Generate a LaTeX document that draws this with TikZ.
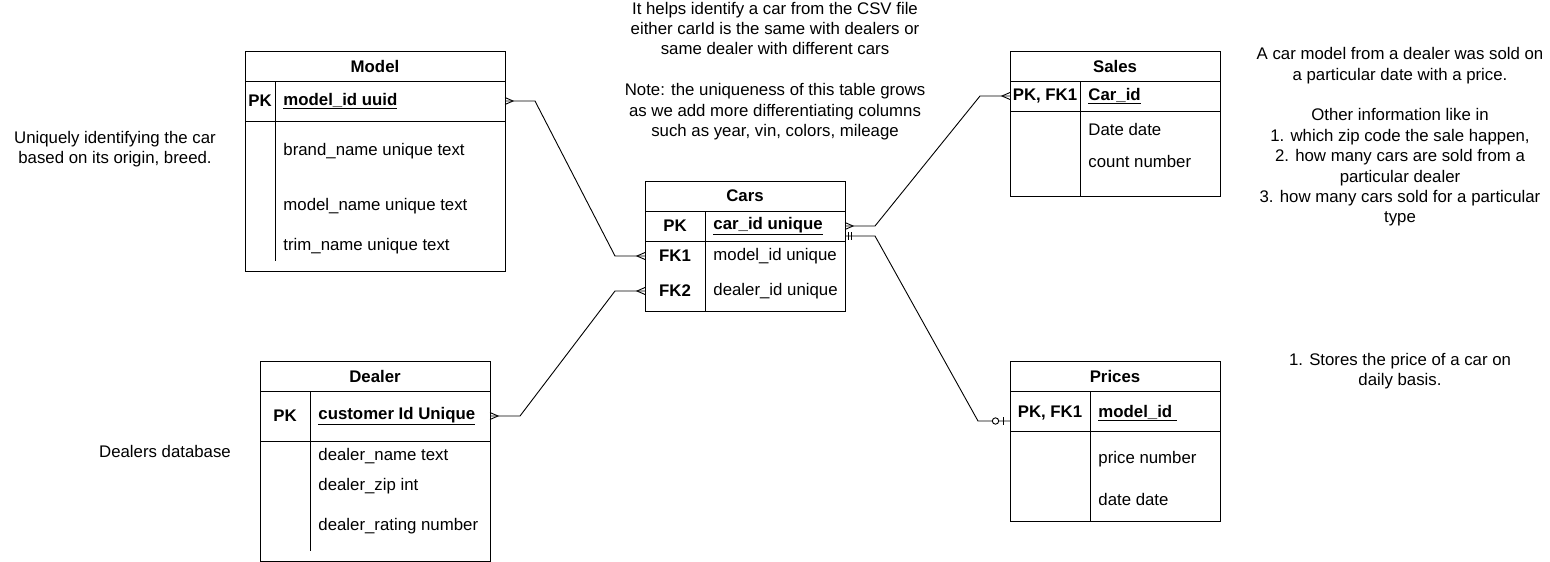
\documentclass[tikz,border=0pt]{standalone}
\usepackage{fontspec}
\setmainfont{Liberation Sans}
\usepackage{tikz}
\usetikzlibrary{positioning}
\newcommand{\erfont}{\fontsize{16.8}{20.4}\selectfont}
\tikzstyle{tablehead} = [rectangle, draw=black, anchor=north west, minimum height=30, inner sep=0, outer sep=0, font=\erfont\bfseries]
\tikzstyle{tablerow} = [rectangle, draw=black, inner sep=0, outer sep=0]
\tikzstyle{field} = [anchor=west, inner sep=0, font=\erfont]
\tikzstyle{keyfield} = [anchor=west, inner sep=0, font=\erfont\bfseries]
\tikzstyle{keylabel} = [inner sep=0, font=\erfont\bfseries]
\tikzstyle{note} = [align=center, inner sep=0, font=\erfont]
\tikzstyle{connect} = [black]
\tikzset{
  crowfoot/.pic={\draw (0,-3.5) -- (8,0) -- (0,3.5);},
  mandone/.pic={\draw (3,-4) -- (3,4) (6,-4) -- (6,4);},
  zeroone/.pic={\draw (7,-4) -- (7,4); \draw[fill=white] (14.5,0) circle (3.2);}
}

\begin{document}
\begin{tikzpicture}[x=1pt, y=-1pt, line width=0.9pt, font=\erfont]
\useasboundingbox (0,0) rectangle (1550,562);

% Model
\node[tablehead, minimum width=260] (model) at (245,51) {Model};
\node[tablerow, minimum width=260, minimum height=40, below=0pt of model] (modelkey) {};
\node[tablerow, minimum width=260, minimum height=150, below=0pt of modelkey] (modelbody) {};
\draw ([xshift=30]modelkey.north west) -- ([xshift=30]modelkey.south west);
\draw ([xshift=30]modelbody.north west) -- ([xshift=30,yshift=10]modelbody.south west);
\node[keylabel] (modelpk) at (260,101) {PK};
\node[keyfield] (modelid) at (283,101) {\underline{model\_id uuid}};
\node[field] (brandname) at (283,151) {brand\_name unique text};
\node[field] (modelname) at (283,206) {model\_name unique text};
\node[field] (trimname) at (283,246) {trim\_name unique text};

% Cars
\node[tablehead, minimum width=200] (cars) at (645,181) {Cars};
\node[tablerow, minimum width=200, minimum height=30, below=0pt of cars] (carskey) {};
\node[tablerow, minimum width=200, minimum height=70, below=0pt of carskey] (carsbody) {};
\draw ([xshift=60]carskey.north west) -- ([xshift=60]carsbody.south west);
\node[keylabel] (carspk) at (675,226) {PK};
\node[keyfield] (carid) at (713,226) {\underline{car\_id unique}};
\node[keylabel] (carsfkone) at (675,256) {FK1};
\node[field] (carsmodelid) at (713,256) {model\_id unique};
\node[keylabel] (carsfktwo) at (675,291) {FK2};
\node[field] (carsdealerid) at (713,291) {dealer\_id unique};

% Sales
\node[tablehead, minimum width=210] (sales) at (1010,51) {Sales};
\node[tablerow, minimum width=210, minimum height=30, below=0pt of sales] (saleskey) {};
\node[tablerow, minimum width=210, minimum height=85, below=0pt of saleskey] (salesbody) {};
\draw ([xshift=70]saleskey.north west) -- ([xshift=70]salesbody.south west);
\node[keylabel] (salespk) at (1045,96) {PK, FK1};
\node[keyfield] (salescarid) at (1088,96) {\underline{Car\_id}};
\node[field] (salesdate) at (1088,129) {Date date};
\node[field] (salescount) at (1088,161) {count number};

% Dealer
\node[tablehead, minimum width=230] (dealer) at (260,361) {Dealer};
\node[tablerow, minimum width=230, minimum height=50, below=0pt of dealer] (dealerkey) {};
\node[tablerow, minimum width=230, minimum height=120, below=0pt of dealerkey] (dealerbody) {};
\draw ([xshift=50]dealerkey.north west) -- ([xshift=50]dealerkey.south west);
\draw ([xshift=50]dealerbody.north west) -- ([xshift=50,yshift=10]dealerbody.south west);
\node[keylabel] (dealerpk) at (285,416) {PK};
\node[keyfield] (customerid) at (318,416) {\underline{customer Id Unique}};
\node[field] (dealername) at (318,456) {dealer\_name text};
\node[field] (dealerzip) at (318,486) {dealer\_zip int};
\node[field] (dealerrating) at (318,526) {dealer\_rating number};

% Prices
\node[tablehead, minimum width=210] (prices) at (1010,361) {Prices};
\node[tablerow, minimum width=210, minimum height=40, below=0pt of prices] (priceskey) {};
\node[tablerow, minimum width=210, minimum height=90, below=0pt of priceskey] (pricesbody) {};
\draw ([xshift=80]priceskey.north west) -- ([xshift=80]pricesbody.south west);
\node[keylabel] (pricespk) at (1050,413) {PK, FK1};
\node[keyfield] (pricesmodelid) at (1098,413) {\underline{model\_id\ }};
\node[field] (pricesprice) at (1098,459) {price number};
\node[field] (pricesdate) at (1098,499) {date date};

% notes
\node[note] (carsnote) at (775,71) {It helps identify a car from the CSV file\\either carId is the same with dealers or\\same dealer with different cars\\[20.4pt]Note: the uniqueness of this table grows\\as we add more differentiating columns\\such as year, vin, colors, mileage};
\node[note] (modelnote) at (115,149) {Uniquely identifying the car\\based on its origin, breed.};
\node[note] (dealernote) at (165,451) {Dealers database};
\node[note] (salesnote) at (1400,137) {A car model from a dealer was sold on\\a particular date with a price.\\[20.4pt]Other information like in\\1. which zip code the sale happen,\\2. how many cars are sold from a\\particular dealer\\3. how many cars sold for a particular\\type};
\node[note] (pricesnote) at (1400,371) {1. Stores the price of a car on\\daily basis.};

% connectors
\coordinate (carsfka) at ([yshift=-15]carsbody.north west);
\coordinate (carsfkb) at ([yshift=-50]carsbody.north west);
\coordinate (carsone) at ([yshift=-10]carskey.east);
\coordinate (pricesone) at ([yshift=-10]priceskey.west);

\draw [connect] (modelkey.east) -- ++(30,0) -- ([xshift=-30]carsfka) -- (carsfka);
\draw [connect] (dealerkey.east) -- ++(30,0) -- ([xshift=-30]carsfkb) -- (carsfkb);
\draw [connect] (carskey.east) -- ++(30,0) -- ([xshift=-30]saleskey.west) -- (saleskey.west);
\draw [connect] (carsone) -- ++(30,0) -- ([xshift=-32]pricesone) -- (pricesone);

\pic at (modelkey.east) {crowfoot};
\pic[xscale=-1] at (carsfka) {crowfoot};
\pic at (dealerkey.east) {crowfoot};
\pic[xscale=-1] at (carsfkb) {crowfoot};
\pic at (carskey.east) {crowfoot};
\pic[xscale=-1] at (saleskey.west) {crowfoot};
\pic at (carsone) {mandone};
\pic[xscale=-1] at (pricesone) {zeroone};
\end{tikzpicture}
\end{document}
